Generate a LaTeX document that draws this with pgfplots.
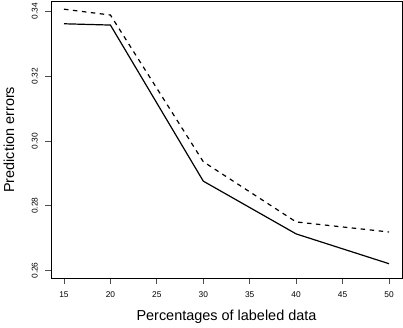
\documentclass[border=0pt]{standalone}
\usepackage{fontspec}
\setmainfont{Liberation Sans}
\usepackage{pgfplots}
\pgfplotsset{compat=1.18}
\begin{document}
\begin{tikzpicture}
\begin{axis}[
  at={(0,0)}, anchor=south west,
  scale only axis,
  width=351bp, height=277.5bp,
  xmin=13.6, xmax=51.4,
  ymin=0.2575, ymax=0.3432,
  xtick={15,20,25,30,35,40,45,50},
  ytick={0.26,0.28,0.30,0.32,0.34},
  yticklabels={0.26,0.28,0.30,0.32,0.34},
  /pgf/number format/assume math mode=true,
  tick align=outside,
  major tick length=5.5bp,
  tick style={black!70, line width=0.8bp},
  axis line style={line width=0.8bp},
  xtick pos=bottom, ytick pos=left,
  ticklabel style={font=\fontsize{8.4}{10}\selectfont},
  % pgfplots adds the outside tick length to these shifts
  xticklabel style={anchor=base, at={(axis cs:\tick,0.2575)}, yshift=-13.8bp},
  yticklabel style={rotate=90, anchor=base, at={(axis cs:13.6,\tick)}, yshift=7.8bp},
  label style={font=\fontsize{14.5}{16}\selectfont},
  xlabel={Percentages of labeled data},
  ylabel={Prediction errors},
  xlabel style={at={(axis description cs:0.5,-0.1514)}, anchor=base},
  ylabel style={at={(axis description cs:-0.1197,0.5)}, anchor=center},
  clip=false,
]
\addplot[black, line width=1.2bp] coordinates {(15,0.3362) (20,0.3358) (30,0.2876) (40,0.2713) (50,0.2621)};
\addplot[black, line width=1.2bp, dash pattern=on 4.5bp off 4.5bp] coordinates {(15,0.3407) (20,0.3389) (30,0.2936) (40,0.2750) (50,0.2719)};
\end{axis}
\useasboundingbox (-51bp,-49bp) rectangle (352bp,278bp);
\end{tikzpicture}
\end{document}
